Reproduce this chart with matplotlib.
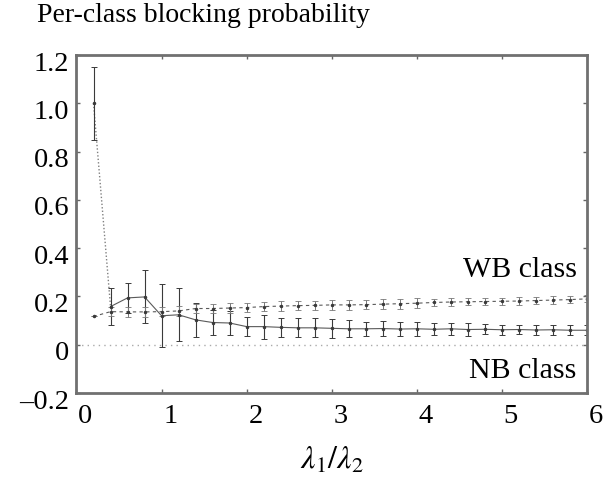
import numpy as np
import matplotlib.pyplot as plt
import matplotlib.transforms as mtransforms

plt.rcParams['font.family'] = ['Liberation Serif', 'DejaVu Serif']
plt.rcParams['mathtext.fontset'] = 'stix'

# lambda1/lambda2 ratio
x = np.round(np.arange(1, 31) * 0.2, 1)

# NB class (steep start at low ratio)
nb = [1.00, 0.158, 0.194, 0.198, 0.120, 0.124, 0.103, 0.092, 0.090, 0.075,
      0.075, 0.072, 0.070, 0.070, 0.068, 0.066, 0.066, 0.067, 0.065, 0.066,
      0.064, 0.066, 0.063, 0.064, 0.062, 0.063, 0.061, 0.062, 0.060, 0.060]
nb_err = [0.15, 0.078, 0.062, 0.11, 0.13, 0.11, 0.07, 0.05, 0.05, 0.04,
          0.05, 0.04, 0.04, 0.04, 0.04, 0.035, 0.03, 0.03, 0.03, 0.03,
          0.025, 0.025, 0.025, 0.02, 0.02, 0.02, 0.02, 0.02, 0.02, 0.02]

# WB class
wb = [0.117, 0.137, 0.136, 0.136, 0.137, 0.140, 0.150, 0.150, 0.152, 0.154,
      0.158, 0.160, 0.162, 0.163, 0.165, 0.165, 0.166, 0.168, 0.170, 0.172,
      0.175, 0.177, 0.178, 0.179, 0.180, 0.181, 0.183, 0.185, 0.187, 0.190]
wb_err = [0.0, 0.02, 0.02, 0.02, 0.02, 0.02, 0.02, 0.02, 0.02, 0.02,
          0.02, 0.02, 0.02, 0.02, 0.02, 0.02, 0.02, 0.02, 0.02, 0.02,
          0.015, 0.015, 0.015, 0.015, 0.015, 0.015, 0.015, 0.015, 0.015, 0.015]

yticks = [-0.2, 0, 0.2, 0.4, 0.6, 0.8, 1.0, 1.2]
ytick_labels = ['\u20130.2', '0', '0.2', '0.4', '0.6', '0.8', '1.0', '1.2']
xticks = [0, 1, 2, 3, 4, 5, 6]

fig = plt.figure(figsize=(6.08, 4.87), dpi=100)
ax = fig.add_axes([0.1258, 0.193, 0.8397, 0.694])

line_col = '#5a5a5a'
bar_col = '#3a3a3a'

# zero reference line
ax.plot([0, 6], [0, 0], ls=(0, (1, 3)), color='#aaaaaa', lw=1)

# NB: dotted steep part, then solid
ax.plot(x[:2], nb[:2], ls=(0, (1, 1.5)), color='#808080', lw=1)
ax.plot(x[1:], nb[1:], ls='-', color=line_col, lw=0.8)
ax.errorbar(x, nb, yerr=nb_err, fmt='.', ms=3, color=bar_col,
            ecolor=bar_col, elinewidth=0.8, capsize=2.5, capthick=0.7)

# WB: dashed
ax.plot(x, wb, ls=(0, (3, 3)), color=line_col, lw=0.8)
ax.errorbar(x, wb, yerr=wb_err, fmt='.', ms=3, color=bar_col,
            ecolor='#777777', elinewidth=0.7, capsize=2.5, capthick=0.6)

ax.set_xlim(0, 6)
ax.set_ylim(-0.2, 1.2)
ax.set_xticks(xticks)
ax.set_xticklabels([str(v) for v in xticks])
ax.set_yticks(yticks)
ax.set_yticklabels(ytick_labels)

ax.tick_params(direction='in', length=3, width=1, color='#666666',
               top=True, right=True, labelsize=20.5)
ax.tick_params(axis='y', pad=5)
ax.tick_params(axis='x', pad=8)
for lab in ax.get_xticklabels():
    lab.set_transform(lab.get_transform() +
                      mtransforms.ScaledTranslation(0.09, 0, fig.dpi_scale_trans))
for lab in ax.get_yticklabels():
    lab.set_transform(lab.get_transform() +
                      mtransforms.ScaledTranslation(0, -0.06, fig.dpi_scale_trans))

for s in ax.spines.values():
    s.set_color('#707070')
    s.set_linewidth(2)

ax.text(5.88, 0.31, 'WB class', ha='right', va='center', fontsize=21.5)
ax.text(5.88, -0.11, 'NB class', ha='right', va='center', fontsize=21.5)

ax.set_xlabel(r'$\lambda_1/\lambda_2$', fontsize=23, labelpad=12)
fig.text(0.061, 0.968, 'Per-class blocking probability', ha='left',
         va='center', fontsize=20)

fig.savefig('out.png', dpi=100)
